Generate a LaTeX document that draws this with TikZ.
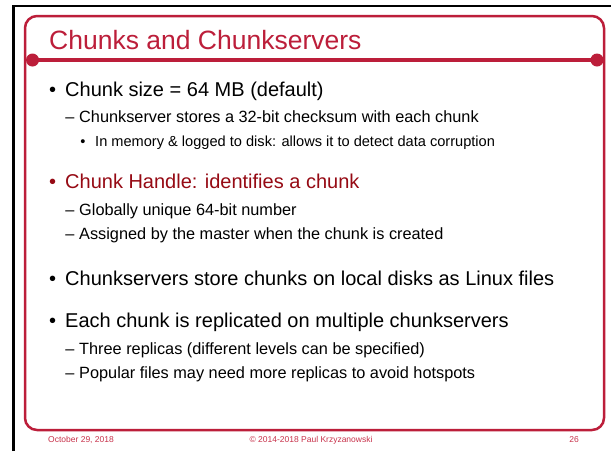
\documentclass[tikz,border=0pt]{standalone}
\usepackage{fontspec}
\setmainfont{Liberation Sans}
\definecolor{framered}{RGB}{188,30,58}
\definecolor{handlered}{RGB}{150,10,20}
\definecolor{footred}{RGB}{200,50,75}
\tikzset{
  txt/.style={inner sep=0pt, anchor=base west},
  lvlone/.style={txt, font=\fontsize{20}{24}\selectfont},
  lvltwo/.style={txt, font=\fontsize{16.3}{19}\selectfont},
  lvlthree/.style={txt, font=\fontsize{14.6}{17}\selectfont},
  bulone/.style={inner sep=0pt, anchor=base, font=\fontsize{20}{24}\selectfont},
  bultwo/.style={inner sep=0pt, anchor=base, font=\fontsize{16.3}{19}\selectfont},
  bulthree/.style={inner sep=0pt, anchor=base, font=\fontsize{14.6}{17}\selectfont},
  foot/.style={inner sep=0pt, anchor=base, text=footred, font=\fontsize{8.5}{10}\selectfont},
}
\begin{document}
\begin{tikzpicture}[x=1pt,y=-1pt]
\useasboundingbox (0,0) rectangle (611,451);
\fill[white] (0,0) rectangle (611,451);
% outer black frame
\draw[line width=2.5pt] (13.5,451) -- (13.5,6) -- (611,6);
% red rounded frame
\draw[framered, line width=2.5pt, rounded corners=12pt] (25,16) rectangle (604,430);
% title rule
\coordinate (dotL) at (32.5,60);
\coordinate (dotR) at (597,60);
\draw[framered, line width=4pt] (dotL) -- (dotR);
\fill[framered] (dotL) circle (6.5);
\fill[framered] (dotR) circle (6.5);
% title
\node[txt, text=framered, font=\fontsize{26.5}{30}\selectfont] (title) at (49,49) {Chunks and Chunkservers};
% body
\node[bulone] (b1) at (52.7,96) {•};
\node[lvlone] (t1) at (65,96) {Chunk size = 64 MB (default)};
\node[bultwo] (d11) at (70,122) {–};
\node[lvltwo] (t11) at (79,122) {Chunkserver stores a 32-bit checksum with each chunk};
\node[bulthree] (b111) at (83,146) {•};
\node[lvlthree] (t111) at (95,146) {In memory \& logged to disk: allows it to detect data corruption};
\node[bulone, text=handlered] (b2) at (52.7,188) {•};
\node[lvlone, text=handlered] (t2) at (65,188) {Chunk Handle: identifies a chunk};
\node[bultwo] (d21) at (70,215.7) {–};
\node[lvltwo] (t21) at (79,215.7) {Globally unique 64-bit number};
\node[bultwo] (d22) at (70,239) {–};
\node[lvltwo] (t22) at (79,239) {Assigned by the master when the chunk is created};
\node[bulone] (b3) at (52.7,285) {•};
\node[lvlone] (t3) at (65,285) {Chunkservers store chunks on local disks as Linux files};
\node[bulone] (b4) at (52.7,327) {•};
\node[lvlone] (t4) at (65,327) {Each chunk is replicated on multiple chunkservers};
\node[bultwo] (d41) at (70,354) {–};
\node[lvltwo] (t41) at (79,354) {Three replicas (different levels can be specified)};
\node[bultwo] (d42) at (70,378.3) {–};
\node[lvltwo] (t42) at (79,378.3) {Popular files may need more replicas to avoid hotspots};
% footer
\node[foot, anchor=base west] (fdate) at (48,442) {October 29, 2018};
\node[foot] (fcopy) at (311,442) {© 2014-2018 Paul Krzyzanowski};
\node[foot, anchor=base east] (fpage) at (579,442) {26};
\end{tikzpicture}
\end{document}
